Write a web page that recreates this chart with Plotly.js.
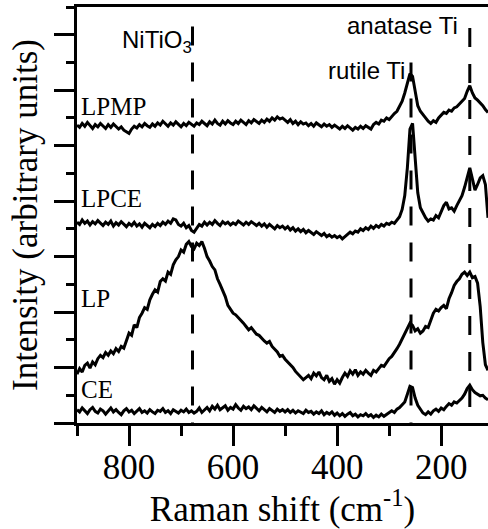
<!DOCTYPE html>
<html>
<head>
<meta charset="utf-8">
<script src="https://cdn.plot.ly/plotly-3.0.1.min.js"></script>
<style>html,body{margin:0;padding:0;background:#fff;}#chart{width:488px;height:529px;}</style>
</head>
<body>
<div id="chart"></div>
<script>
// Raman shift grid (cm^-1)
const ramanShift = [
900,895,890,885,880,875,870,865,860,855,
850,845,840,835,830,825,820,815,810,805,
800,795,790,785,780,775,770,765,760,755,
750,745,740,735,730,725,720,715,710,705,
700,695,690,685,680,675,670,665,660,655,
650,645,640,635,630,625,620,615,610,605,
600,595,590,585,580,575,570,565,560,555,
550,545,540,535,530,525,520,515,510,505,
500,495,490,485,480,475,470,465,460,455,
450,445,440,435,430,425,420,415,410,405,
400,395,390,385,380,375,370,365,360,355,
350,345,340,335,330,325,320,315,310,305,
300,295,290,285,280,275,270,265,260,255,
250,245,240,235,230,225,220,215,210,205,
200,195,190,185,180,175,170,165,160,155,
150,145,140,135,130,125,120,115,110];

const intensityCE = [
0.24,0.20,0.27,0.22,0.17,0.24,0.28,0.21,0.18,0.25,
0.22,0.16,0.21,0.27,0.20,0.24,0.19,0.15,0.22,0.26,
0.20,0.23,0.17,0.21,0.26,0.19,0.22,0.18,0.24,0.20,
0.17,0.23,0.21,0.26,0.19,0.22,0.17,0.24,0.21,0.18,
0.23,0.20,0.25,0.19,0.22,0.18,0.21,0.27,0.19,0.24,
0.28,0.22,0.30,0.25,0.32,0.24,0.27,0.31,0.23,0.28,
0.25,0.33,0.27,0.23,0.30,0.26,0.29,0.24,0.31,0.26,
0.22,0.28,0.24,0.20,0.26,0.23,0.19,0.25,0.21,0.24,
0.20,0.24,0.19,0.23,0.18,0.22,0.20,0.17,0.23,0.19,
0.21,0.16,0.20,0.17,0.22,0.15,0.19,0.16,0.20,0.14,
0.18,0.13,0.17,0.12,0.16,0.19,0.13,0.16,0.11,0.15,
0.13,0.17,0.12,0.15,0.10,0.14,0.11,0.16,0.12,0.15,
0.18,0.22,0.19,0.25,0.28,0.33,0.38,0.52,0.66,0.64,
0.45,0.32,0.24,0.18,0.15,0.20,0.16,0.22,0.25,0.21,
0.27,0.24,0.30,0.35,0.32,0.38,0.36,0.41,0.45,0.52,
0.62,0.68,0.60,0.55,0.52,0.49,0.50,0.45,0.42];

const intensityLP = [
0.88,0.98,0.92,1.04,1.08,0.99,1.10,1.05,1.16,1.22,
1.18,1.27,1.22,1.30,1.25,1.34,1.29,1.38,1.35,1.50,
1.62,1.58,1.77,1.72,1.90,1.98,2.08,2.05,2.22,2.32,
2.40,2.36,2.55,2.60,2.56,2.72,2.68,2.85,2.94,3.00,
3.12,3.08,3.22,3.27,3.18,3.14,3.24,3.20,3.27,3.15,
3.00,2.92,2.82,2.76,2.60,2.50,2.40,2.28,2.12,2.06,
1.98,1.95,1.90,1.86,1.80,1.74,1.68,1.72,1.66,1.60,
1.58,1.52,1.48,1.44,1.47,1.38,1.33,1.28,1.20,1.22,
1.15,1.10,1.04,1.00,0.93,0.88,0.84,0.78,0.82,0.86,
0.80,0.90,0.85,0.92,0.82,0.78,0.86,0.75,0.80,0.70,
0.78,0.72,0.82,0.90,0.84,0.94,0.88,0.96,0.86,0.92,
0.88,0.95,0.90,0.86,0.95,0.92,0.98,1.04,1.02,1.10,
1.16,1.20,1.26,1.34,1.42,1.52,1.60,1.70,1.80,1.76,
1.66,1.70,1.62,1.66,1.74,1.72,1.85,1.98,2.05,2.02,
2.08,2.12,2.06,2.24,2.35,2.48,2.55,2.60,2.68,2.72,
2.66,2.72,2.62,2.64,2.52,2.10,1.45,1.05,0.95];

const intensityLPCE = [
3.62,3.58,3.66,3.60,3.64,3.57,3.63,3.59,3.65,3.60,
3.56,3.62,3.58,3.64,3.55,3.61,3.57,3.63,3.58,3.54,
3.60,3.56,3.62,3.55,3.59,3.53,3.60,3.56,3.52,3.58,
3.54,3.60,3.56,3.62,3.58,3.64,3.60,3.68,3.66,3.58,
3.55,3.60,3.52,3.56,3.47,3.44,3.52,3.58,3.55,3.62,
3.57,3.62,3.58,3.65,3.60,3.56,3.63,3.59,3.62,3.57,
3.61,3.58,3.64,3.60,3.57,3.62,3.58,3.63,3.59,3.56,
3.60,3.55,3.59,3.53,3.58,3.54,3.50,3.56,3.52,3.55,
3.50,3.54,3.48,3.52,3.46,3.50,3.45,3.49,3.43,3.47,
3.44,3.40,3.45,3.41,3.38,3.42,3.36,3.39,3.35,3.38,
3.34,3.37,3.32,3.36,3.40,3.44,3.41,3.46,3.44,3.50,
3.47,3.52,3.49,3.55,3.51,3.56,3.53,3.58,3.55,3.60,
3.58,3.62,3.60,3.66,3.72,3.85,4.10,4.60,5.30,5.40,
4.70,4.15,3.88,3.78,3.70,3.64,3.68,3.66,3.74,3.70,
3.80,3.92,3.98,3.86,3.88,3.82,3.92,4.02,4.10,4.25,
4.45,4.60,4.40,4.20,4.30,4.42,4.46,4.30,3.70];

const intensityLPMP = [
5.37,5.33,5.40,5.35,5.42,5.36,5.31,5.38,5.34,5.40,
5.36,5.31,5.38,5.33,5.39,5.35,5.30,5.34,5.28,5.25,
5.22,5.30,5.35,5.32,5.38,5.34,5.40,5.36,5.33,5.39,
5.35,5.41,5.37,5.44,5.39,5.35,5.41,5.37,5.43,5.38,
5.34,5.40,5.36,5.42,5.38,5.35,5.41,5.38,5.44,5.40,
5.36,5.43,5.39,5.46,5.40,5.37,5.44,5.39,5.45,5.41,
5.38,5.44,5.40,5.46,5.42,5.38,5.45,5.41,5.47,5.43,
5.40,5.46,5.42,5.48,5.44,5.50,5.46,5.52,5.48,5.50,
5.46,5.42,5.47,5.40,5.44,5.38,5.43,5.39,5.41,5.36,
5.40,5.35,5.41,5.37,5.34,5.39,5.35,5.38,5.33,5.37,
5.34,5.30,5.35,5.31,5.36,5.32,5.28,5.33,5.30,5.35,
5.31,5.36,5.33,5.30,5.38,5.42,5.39,5.46,5.44,5.50,
5.47,5.53,5.58,5.62,5.70,5.80,5.95,6.15,6.30,6.25,
5.95,5.72,5.62,5.55,5.50,5.44,5.40,5.45,5.42,5.50,
5.55,5.60,5.58,5.64,5.62,5.68,5.70,5.75,5.80,5.85,
5.98,6.08,5.95,5.86,5.82,5.77,5.72,5.65,5.60];

const seriesNames = ['CE', 'LP', 'LPCE', 'LPMP'];
const seriesValues = [intensityCE, intensityLP, intensityLPCE, intensityLPMP];
const seriesLabelY = [0.61, 2.25, 4.04, 5.71];

const peakNames = ['NiTiO<sub>3</sub>', 'rutile Ti', 'anatase Ti'];
const peakShift = [678, 258, 145];
const peakLineTop = [7.15, 6.5, 7.12];
const peakLabelX = [676, 265, 163];
const peakLabelY = [6.87, 6.35, 7.16];

const xRange = [900, 110];
const yRange = [0, 7.5];

const traces = seriesNames.map((n, i) => ({
  type: 'scatter', mode: 'lines', name: n,
  x: ramanShift, y: seriesValues[i],
  line: {color: '#000', width: 3}, hoverinfo: 'skip'
}));
// empty trace that carries the minor-tick axes
traces.push({type: 'scatter', mode: 'lines', x: [], y: [], xaxis: 'x2', yaxis: 'y2', hoverinfo: 'skip', showlegend: false});

const shapes = peakShift.map((v, i) => ({
  type: 'line', xref: 'x', yref: 'y',
  x0: v, x1: v, y0: peakLineTop[i], y1: 0,
  line: {color: '#000', width: 3, dash: '19px,17px'}
}));

const annotations = [];
seriesNames.forEach((n, i) => annotations.push({
  text: n, xref: 'paper', yref: 'y', x: 0.005, y: seriesLabelY[i],
  xanchor: 'left', yanchor: 'middle', showarrow: false,
  font: {family: 'Liberation Serif, Times New Roman, serif', size: 25, color: '#000'}
}));
peakNames.forEach((n, i) => annotations.push({
  text: n, xref: 'x', yref: 'y', x: peakLabelX[i], y: peakLabelY[i],
  xanchor: 'right', yanchor: 'middle', showarrow: false,
  font: {family: 'Liberation Sans, Arial, sans-serif', size: 24, color: '#000'}
}));

const serif = 'Liberation Serif, Times New Roman, serif';
const layout = {
  width: 488, height: 529,
  margin: {l: 77, r: 0, t: 7, b: 106},
  paper_bgcolor: '#fff', plot_bgcolor: 'rgba(0,0,0,0)',
  showlegend: false,
  font: {family: serif, color: '#000'},
  xaxis: {
    range: xRange, autorange: false,
    showgrid: false, zeroline: false,
    showline: true, linecolor: '#000', linewidth: 3, mirror: true,
    ticks: 'outside', ticklen: 20, tickwidth: 3, tickcolor: '#000',
    tickmode: 'linear', tick0: 0, dtick: 200,
    ticklabelstandoff: -9,
    tickfont: {family: serif, size: 35, color: '#000'},
    title: {text: 'Raman shift (cm<sup>-1</sup>)', standoff: 6,
      font: {family: serif, size: 35, color: '#000'}}
  },
  xaxis2: {
    overlaying: 'x', anchor: 'y', side: 'bottom',
    range: xRange, autorange: false,
    showgrid: false, zeroline: false, showline: false, showticklabels: false,
    ticks: 'outside', ticklen: 12, tickwidth: 3, tickcolor: '#000',
    tickmode: 'linear', tick0: 100, dtick: 200
  },
  yaxis: {
    range: yRange, autorange: false,
    showgrid: false, zeroline: false,
    showline: true, linecolor: '#000', linewidth: 3, mirror: false,
    ticks: 'outside', ticklen: 20, tickwidth: 3, tickcolor: '#000',
    tickmode: 'linear', dtick: 1, tick0: 0, showticklabels: false,
    title: {text: 'Intensity (arbitrary units)', standoff: 6,
      font: {family: serif, size: 35, color: '#000'}}
  },
  yaxis2: {
    overlaying: 'y', anchor: 'x', side: 'left',
    range: yRange, autorange: false,
    showgrid: false, zeroline: false, showline: false, showticklabels: false,
    ticks: 'outside', ticklen: 10, tickwidth: 3, tickcolor: '#000',
    tickmode: 'linear', tick0: 0.5, dtick: 1
  },
  shapes: shapes,
  annotations: annotations
};

Plotly.newPlot('chart', traces, layout, {displayModeBar: false, staticPlot: true});
</script>
</body>
</html>
